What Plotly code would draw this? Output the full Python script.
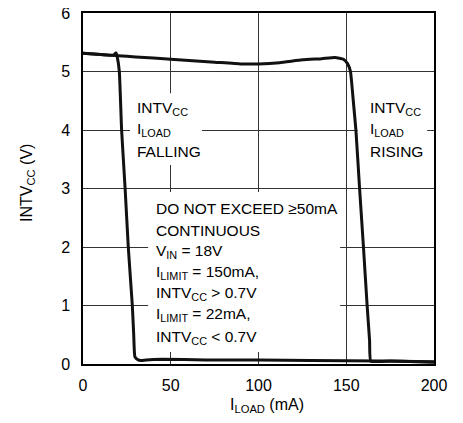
import plotly.graph_objects as go

# ILOAD rising branch
rise_x = [0, 10, 20, 30, 50, 75, 90, 100, 112, 125, 136, 143.6, 148.4, 150.8, 152.4, 154, 155.5, 157.6, 159.8, 161.9, 163.3, 164.0, 175, 190, 200]
rise_y = [5.31, 5.29, 5.27, 5.25, 5.21, 5.16, 5.13, 5.13, 5.15, 5.20, 5.22, 5.24, 5.21, 5.13, 5.00, 4.50, 4.00, 3.00, 2.00, 1.00, 0.40, 0.05, 0.05, 0.04, 0.03]

# ILOAD falling branch
fall_x = [200, 170, 130, 100, 70, 45, 36, 33, 31.4, 29.6, 28.9, 28.1, 25.8, 24.0, 22.0, 20.7, 19.5, 18.8, 17.5, 10, 0]
fall_y = [0.04, 0.05, 0.06, 0.07, 0.07, 0.08, 0.07, 0.06, 0.07, 0.12, 0.50, 1.00, 2.00, 3.00, 4.00, 5.00, 5.25, 5.32, 5.28, 5.29, 5.31]

x_ticks = [0, 50, 100, 150, 200]
y_ticks = [0, 1, 2, 3, 4, 5, 6]

FONT = "Liberation Sans, Arial, sans-serif"
FS = 16
AFS = 15.5

fig = go.Figure()
fig.add_trace(go.Scatter(x=rise_x, y=rise_y, mode="lines",
                         line=dict(color="#111111", width=3, shape="spline", smoothing=0.4),
                         showlegend=False, hoverinfo="skip"))
fig.add_trace(go.Scatter(x=fall_x, y=fall_y, mode="lines",
                         line=dict(color="#111111", width=3, shape="spline", smoothing=0.4),
                         showlegend=False, hoverinfo="skip"))

# white boxes hiding gridlines behind labels
for x0, x1, y0, y1 in [(26.8, 67.8, 3.40, 4.63), (156.4, 196.1, 3.40, 4.63), (37.1, 146.5, 0.205, 2.94)]:
    fig.add_shape(type="rect", xref="x", yref="y", x0=x0, x1=x1, y0=y0, y1=y1,
                  fillcolor="white", line=dict(width=0), layer="between")

def add_lines(x, ys, lines):
    for y, t in zip(ys, lines):
        fig.add_annotation(x=x, y=y, xref="x", yref="y", text=t, showarrow=False,
                           xanchor="left", yanchor="middle", align="left",
                           font=dict(family=FONT, size=AFS, color="black"))

add_lines(29.6, [4.376, 4.01, 3.64], ["INTV<sub>CC</sub>", "I<sub>LOAD</sub>", "FALLING"])
add_lines(162.3, [4.376, 4.01, 3.64], ["INTV<sub>CC</sub>", "I<sub>LOAD</sub>", "RISING"])
add_lines(40.5, [2.65, 2.29, 1.93, 1.56, 1.20, 0.84, 0.46],
          ["DO NOT EXCEED ≥50mA", "CONTINUOUS", "V<sub>IN</sub> = 18V",
           "I<sub>LIMIT</sub> = 150mA,", "INTV<sub>CC</sub> > 0.7V",
           "I<sub>LIMIT</sub> = 22mA,", "INTV<sub>CC</sub> < 0.7V"])

# axis titles
fig.add_annotation(x=0.5256, y=-0.118, xref="paper", yref="paper", text="I<sub>LOAD</sub> (mA)",
                   showarrow=False, xanchor="center", yanchor="middle",
                   font=dict(family=FONT, size=FS, color="black"))
fig.add_annotation(x=-0.1567, y=0.5157, xref="paper", yref="paper", text="INTV<sub>CC</sub> (V)",
                   showarrow=False, xanchor="center", yanchor="middle", textangle=-90,
                   font=dict(family=FONT, size=FS, color="black"))

fig.update_layout(
    width=455, height=415,
    margin=dict(l=75, r=29, t=5, b=59),
    paper_bgcolor="white", plot_bgcolor="white",
    font=dict(family=FONT, size=FS, color="black"),
    xaxis=dict(range=[0, 200], tickvals=x_ticks, ticks="", showgrid=True,
               gridcolor="#333333", gridwidth=1, zeroline=False, automargin=False,
               showline=True, mirror=True, linecolor="black", linewidth=1.5,
               ticklabelstandoff=6, ticklabeloverflow="allow"),
    yaxis=dict(range=[0, 6], tickvals=y_ticks, ticks="", showgrid=True,
               gridcolor="#333333", gridwidth=1, zeroline=False, automargin=False,
               showline=True, mirror=True, linecolor="black", linewidth=1.5,
               ticklabelstandoff=8, ticklabeloverflow="allow"),
)

fig.write_html("out.html")
